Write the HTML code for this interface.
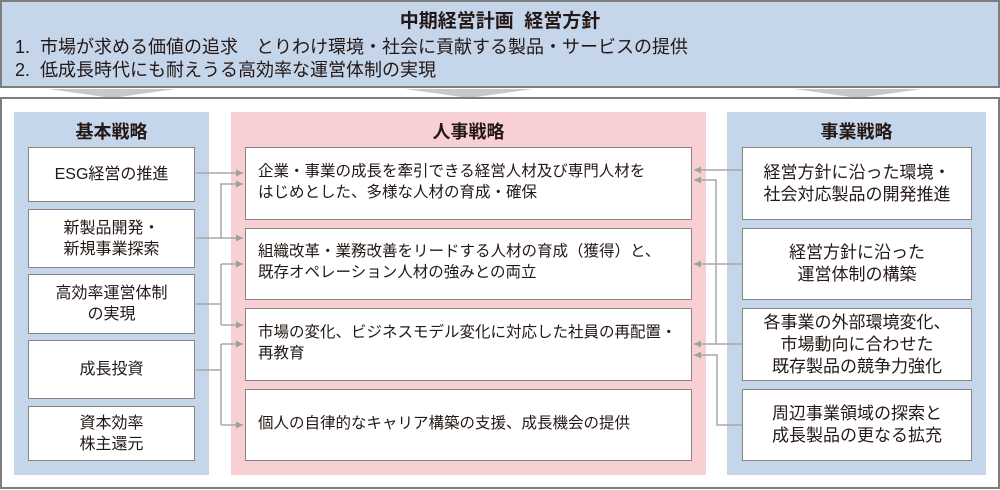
<!DOCTYPE html>
<html><head><meta charset="utf-8"><style>
*{margin:0;padding:0;box-sizing:border-box}
body{width:1000px;height:490px;position:relative;background:#fff;font-family:"Liberation Sans","Noto Sans CJK JP",sans-serif;color:#231815;overflow:hidden}
.a{position:absolute}
.banner{left:0;top:0;width:1000px;height:88px;background:#c5d5ea;border:2px solid #7d7d7d}
.main{left:0;top:97px;width:1000px;height:392px;border:2px solid #7d7d7d}
.col{top:112px;height:363px}
.hd{position:absolute;top:6px;left:0;right:0;text-align:center;font-size:18px;font-weight:bold}
.box{position:absolute;background:#fff;border:1.5px solid #858585;display:flex;align-items:center;font-size:16px;line-height:21px}
.l{left:28px;width:167px;justify-content:center;text-align:center}
.m{left:245px;width:447px;padding-left:12px;font-size:15.5px;line-height:21px;padding-bottom:4px;white-space:nowrap}
.r{left:742px;width:230px;justify-content:center;text-align:center;font-size:17px;line-height:22px}
</style></head><body>
<div class="a banner">
<div style="position:absolute;top:4px;left:0;right:0;text-align:center;font-size:19px;font-weight:bold">中期経営計画&nbsp; 経営方針</div>
<div style="position:absolute;top:34px;left:13px;font-size:18px;line-height:23px;white-space:nowrap">1.&nbsp; 市場が求める価値の追求　とりわけ環境・社会に貢献する製品・サービスの提供<br>2.&nbsp; 低成長時代にも耐えうる高効率な運営体制の実現</div>
</div>
<svg class="a" style="left:0;top:0" width="1000" height="490">
<polygon points="48,89 176,89 112,98" fill="#c8c8c8"/>
<polygon points="405,89 533,89 469,98" fill="#c8c8c8"/>
<polygon points="794,89 922,89 858,98" fill="#c8c8c8"/>
</svg>
<div class="a main"></div>
<div class="a col" style="left:14px;width:195px;background:#c5d5ea"><div class="hd">基本戦略</div></div>
<div class="a col" style="left:231px;width:475px;background:#f8d0d3"><div class="hd">人事戦略</div></div>
<div class="a col" style="left:727px;width:259px;background:#c5d5ea"><div class="hd">事業戦略</div></div>

<div class="box l" style="top:147px;height:55px">ESG経営の推進</div>
<div class="box l" style="top:209px;height:59px">新製品開発・<br>新規事業探索</div>
<div class="box l" style="top:274px;height:60px">高効率運営体制<br>の実現</div>
<div class="box l" style="top:340px;height:59px">成長投資</div>
<div class="box l" style="top:406px;height:55px">資本効率<br>株主還元</div>

<div class="box m" style="top:147px;height:73px">企業・事業の成長を牽引できる経営人材及び専門人材を<br>はじめとした、多様な人材の育成・確保</div>
<div class="box m" style="top:228px;height:72px">組織改革・業務改善をリードする人材の育成（獲得）と、<br>既存オペレーション人材の強みとの両立</div>
<div class="box m" style="top:308px;height:73px">市場の変化、ビジネスモデル変化に対応した社員の再配置・<br>再教育</div>
<div class="box m" style="top:389px;height:72px">個人の自律的なキャリア構築の支援、成長機会の提供</div>

<div class="box r" style="top:147px;height:73px">経営方針に沿った環境・<br>社会対応製品の開発推進</div>
<div class="box r" style="top:228px;height:72px">経営方針に沿った<br>運営体制の構築</div>
<div class="box r" style="top:308px;height:73px">各事業の外部環境変化、<br>市場動向に合わせた<br>既存製品の競争力強化</div>
<div class="box r" style="top:389px;height:72px">周辺事業領域の探索と<br>成長製品の更なる拡充</div>

<svg class="a" style="left:0;top:0" width="1000" height="490">
<defs><marker id="ah" markerWidth="8" markerHeight="8" refX="7" refY="4" orient="auto" markerUnits="userSpaceOnUse"><path d="M0,0.5 L7,4 L0,7.5z" fill="#a0a0a0"/></marker></defs>
<g stroke="#a8a8a8" stroke-width="1.5" fill="none">
<path d="M196,173 H243" marker-end="url(#ah)"/>
<path d="M196,238 H243" marker-end="url(#ah)"/>
<path d="M221,238 V184 H243" marker-end="url(#ah)"/>
<path d="M196,304 H221"/>
<path d="M221,264 V325"/>
<path d="M221,264 H243" marker-end="url(#ah)"/>
<path d="M221,325 H243" marker-end="url(#ah)"/>
<path d="M196,370 H221"/>
<path d="M221,344 V425"/>
<path d="M221,344 H243" marker-end="url(#ah)"/>
<path d="M221,425 H243" marker-end="url(#ah)"/>
<path d="M742,170 H694" marker-end="url(#ah)"/>
<path d="M716,344 V180 H694" marker-end="url(#ah)"/>
<path d="M742,264 H694" marker-end="url(#ah)"/>
<path d="M742,344 H694" marker-end="url(#ah)"/>
<path d="M742,425 H717 V355 H694" marker-end="url(#ah)"/>
</g>
</svg>
</body></html>
